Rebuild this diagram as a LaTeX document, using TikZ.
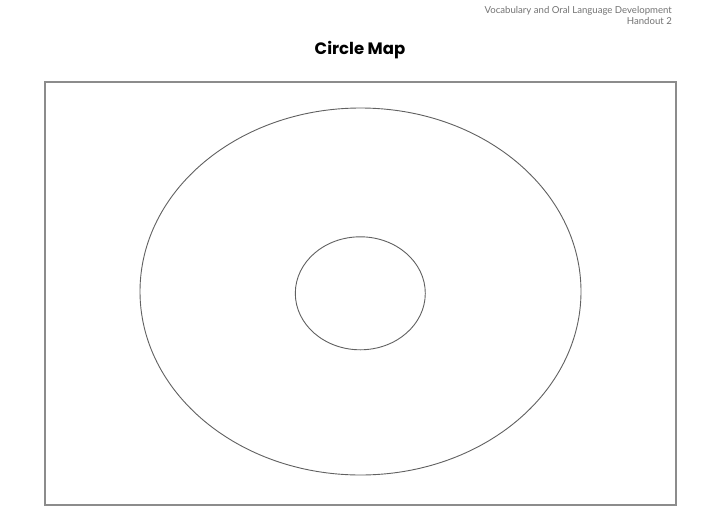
\documentclass[tikz,border=0pt]{standalone}
\usepackage{fontspec}
\setmainfont{Lato}
\newfontfamily\titlefont{Poppins}
\usetikzlibrary{shapes.geometric,positioning}

\begin{document}
\begin{tikzpicture}[x=1pt,y=-1pt,
	every ellipse/.style={ellipse,draw=black!62,line width=0.9pt,inner sep=0pt},
	frame/.style={rectangle,draw=black!45,line width=1.1pt,inner sep=0pt,minimum width=631pt,minimum height=423pt},
	header/.style={align=right,anchor=north east,inner sep=0pt,text=black!55,font=\fontsize{9.6}{11}\selectfont}]
			\useasboundingbox[fill=white] (0,0) rectangle (720,530);
			\node[header] (Handout) at (672,6) {Vocabulary and Oral Language Development\\ Handout 2};
			\node[font=\titlefont\bfseries\fontsize{16.5}{18}\selectfont] (Title) at (360,50) {Circle Map};
			\node[frame] (Frame) at (360.5,293.5) {};
			\node[every ellipse,minimum width=441pt,minimum height=367pt] (OuterCircle) at (360.5,291.5) {};
			\node[every ellipse,minimum width=130pt,minimum height=113pt] (InnerCircle) at (360.3,293.3) {};
		\end{tikzpicture}
\end{document}
